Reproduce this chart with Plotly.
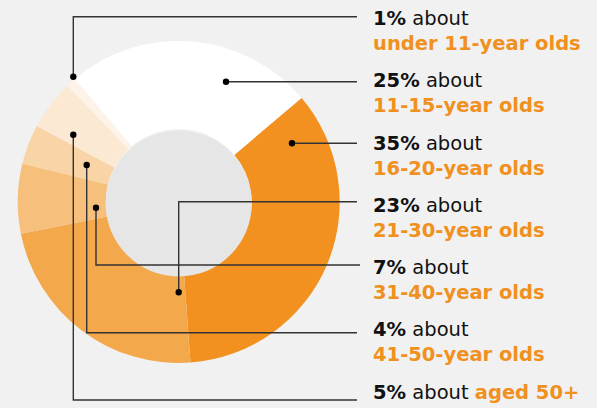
import plotly.graph_objects as go

# ---------------- data ----------------
categories = ["under 11-year olds", "11-15-year olds", "16-20-year olds",
              "21-30-year olds", "31-40-year olds", "41-50-year olds", "aged 50+"]
shares = [1, 25, 35, 23, 7, 4, 5]
pct_labels = ["1%", "25%", "35%", "23%", "7%", "4%", "5%"]

# ---------------- style / layout ----------------
slice_colors = ["#FDF3E8", "#FFFFFF", "#F2911F", "#F3A84C", "#F6BF7C", "#F9D4A6", "#FBE9D3"]
ORANGE = "#F0901E"
TEXT = "#111111"
BG = "#F1F1F1"
HOLE = "#E6E6E6"
LINE = "#333333"
FONT = "DejaVu Sans"
FS = 19.5

W, H = 597, 408
cx, cy, R = 178.7, 202.0, 161.0
hole_r = 73.0
start_angle = 316.2  # clockwise degrees from 12 o'clock where first slice starts


def px(x):
    return x / W


def py(y):
    return 1 - y / H


fig = go.Figure()
fig.add_trace(go.Pie(
    labels=categories,
    values=shares,
    sort=False,
    direction="clockwise",
    rotation=start_angle - 360,
    hole=hole_r / R,
    marker=dict(colors=slice_colors, line=dict(width=0)),
    textinfo="none",
    hoverinfo="label+percent",
    showlegend=False,
    domain=dict(x=[px(cx - R), px(cx + R)], y=[py(cy + R), py(cy - R)]),
))

shapes = []
# gray hole
shapes.append(dict(type="circle", xref="paper", yref="paper",
                   x0=px(cx - hole_r), x1=px(cx + hole_r),
                   y0=py(cy + hole_r + 1.5), y1=py(cy - hole_r + 1.5),
                   fillcolor=HOLE, line=dict(width=0), layer="above"))

# leader lines (pixel anchor paths)
leaders = [
    [(73.3, 76.7), (73.3, 16.7), (357, 16.7)],
    [(226, 81.7), (357, 81.7)],
    [(292, 143.3), (357, 143.3)],
    [(178.7, 292.3), (178.7, 201.7), (357, 201.7)],
    [(96, 207.7), (96, 265), (360, 265)],
    [(86.7, 165), (86.7, 332.7), (357, 332.7)],
    [(73.3, 134.7), (73.3, 400), (357, 400)],
]
for pts in leaders:
    path = "M " + " L ".join(f"{px(x):.5f},{py(y):.5f}" for x, y in pts)
    shapes.append(dict(type="path", xref="paper", yref="paper", path=path,
                       line=dict(color=LINE, width=1.4), layer="above"))
    x0, y0 = pts[0]
    r = 3.2
    shapes.append(dict(type="circle", xref="paper", yref="paper",
                       x0=px(x0 - r), x1=px(x0 + r), y0=py(y0 + r), y1=py(y0 - r),
                       fillcolor="#000000", line=dict(width=0), layer="above"))

annotations = []
text_x = 370.5
line1_y = [19, 81.5, 144, 206, 268.5, 330.5, 392.5]
line_gap = 23.4
for i, (pct, cat) in enumerate(zip(pct_labels, categories)):
    if i == len(categories) - 1:
        t = f"<b>{pct}</b> about <span style='color:{ORANGE}'><b>{cat}</b></span>"
        yc = line1_y[i]
    else:
        t = f"<b>{pct}</b> about<br><span style='color:{ORANGE}'><b>{cat}</b></span>"
        yc = line1_y[i] + line_gap / 2
    annotations.append(dict(x=px(text_x), y=py(yc), xref="paper", yref="paper",
                            text=t, showarrow=False, xanchor="left", yanchor="middle",
                            align="left",
                            font=dict(family=FONT, size=FS, color=TEXT)))

fig.update_layout(
    width=W, height=H,
    margin=dict(l=0, r=0, t=0, b=0),
    paper_bgcolor=BG, plot_bgcolor=BG,
    shapes=shapes, annotations=annotations,
    showlegend=False,
)

fig.write_html("out.html", config={"displayModeBar": False})
